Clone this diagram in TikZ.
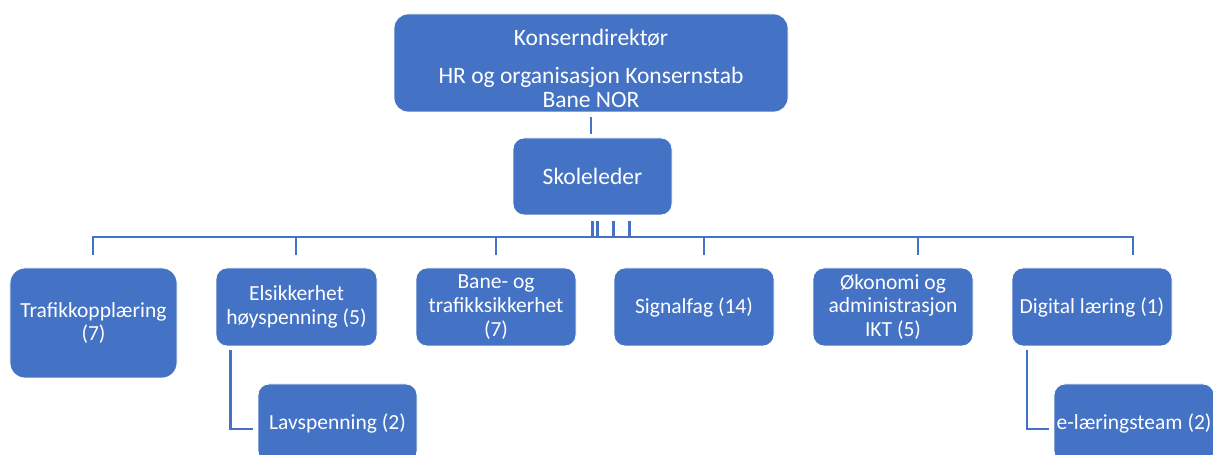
\documentclass[tikz,border=0pt]{standalone}
\usepackage{fontspec}
\setmainfont{Carlito}
\definecolor{obl}{RGB}{68,114,196}
\begin{document}
\begin{tikzpicture}[x=1bp,y=-1bp,
  box/.style={fill=obl,draw=white,line width=0.8bp,rounded corners=11bp,
    inner sep=0pt,outer sep=0pt,text=white,align=center,
    font=\fontsize{21.6}{23.8}\selectfont},
  smallbox/.style={box,minimum width=160bp,minimum height=78bp},
  conn/.style={draw=obl,line width=2.5bp}]
\useasboundingbox (0,0) rectangle (1213,455);
\clip (0,0) rectangle (1213,455);
% top level
\node[box,minimum width=394bp,minimum height=98bp,rounded corners=14bp,
  font=\fontsize{23.6}{24.5}\selectfont] (top) at (591,63)
  {\raisebox{-8.5bp}[\height][\depth]{\begin{tabular}{@{}c@{}}Konserndirektør\\[13.5bp]HR og organisasjon Konsernstab\\Bane NOR\end{tabular}}};
\node[box,minimum width=159bp,minimum height=77bp,
  font=\fontsize{23.6}{26}\selectfont] (sk) at (592.5,176.5) {Skoleleder};
% children
\node[box,minimum width=167bp,minimum height=110bp,rounded corners=15bp] (c1) at (93.5,323) {Trafikkopplæring\\(7)};
\node[smallbox,minimum width=161bp] (c2) at (296.5,307) {Elsikkerhet\\høyspenning (5)};
\node[smallbox] (c3) at (496,307) {Bane- og\\trafikksikkerhet\\(7)};
\node[smallbox] (c4) at (694,307) {Signalfag (14)};
\node[smallbox] (c5) at (893,307) {Økonomi og\\administrasjon\\IKT (5)};
\node[smallbox] (c6) at (1092,307) {Digital læring (1)};
\node[smallbox,minimum width=159bp] (l1) at (337.5,423) {Lavspenning (2)};
\node[smallbox] (l2) at (1134,423) {e-læringsteam (2)};
% connectors
\coordinate (bus) at (0,237);
\draw[conn] ([yshift=-5bp]top.south) -- ([yshift=4bp]top.south |- sk.north);
\foreach \dx in {0,5,21,37}{
  \draw[conn] ([xshift=\dx bp,yshift=-6bp]sk.south) -- ([xshift=\dx bp]sk.south |- bus);
}
\draw[conn,line join=miter] ([xshift=-0.5bp,yshift=13bp]c1.north) -- ([xshift=-0.5bp]c1.north |- bus)
  -- ([xshift=41bp]c6.north |- bus) -- ([xshift=41bp,yshift=13bp]c6.north);
\draw[conn] ([xshift=-0.5bp]c2.north |- bus) -- ([xshift=-0.5bp,yshift=13bp]c2.north);
\draw[conn] (c3.north |- bus) -- ([yshift=13bp]c3.north);
\draw[conn] ([xshift=10bp]c4.north |- bus) -- ([xshift=10bp,yshift=13bp]c4.north);
\draw[conn] ([xshift=25bp]c5.north |- bus) -- ([xshift=25bp,yshift=13bp]c5.north);
\draw[conn,line join=miter] ([xshift=14.7bp,yshift=-4bp]c2.south west) |- ([xshift=-5bp,yshift=-6bp]l1.west);
\draw[conn,line join=miter] ([xshift=15bp,yshift=-4bp]c6.south west) |- ([xshift=-5bp,yshift=-6bp]l2.west);
\end{tikzpicture}
\end{document}
